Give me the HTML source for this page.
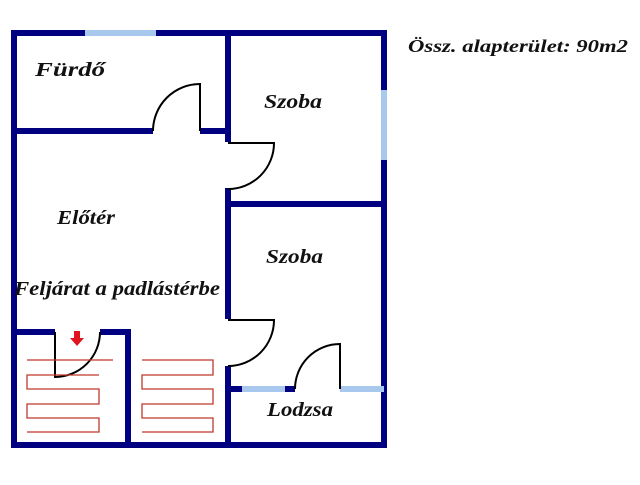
<!DOCTYPE html>
<html><head><style>
body{margin:0;background:#fff;width:640px;height:480px;overflow:hidden}
text{font-family:"Liberation Serif",serif;font-weight:bold;font-style:italic;fill:#111}
</style></head><body>
<svg width="640" height="480" viewBox="0 0 640 480">
<g fill="#000080">
<rect x="11" y="30" width="376" height="6"/>
<rect x="11" y="30" width="6" height="418"/>
<rect x="381" y="30" width="6" height="418"/>
<rect x="11" y="442" width="376" height="6"/>
<rect x="225" y="30" width="6" height="112"/>
<rect x="225" y="188" width="6" height="131"/>
<rect x="225" y="366" width="6" height="82"/>
<rect x="11" y="128" width="142" height="6"/>
<rect x="200" y="128" width="28" height="6"/>
<rect x="228" y="201" width="156" height="6"/>
<rect x="11" y="329" width="44" height="6"/>
<rect x="100" y="329" width="31" height="6"/>
<rect x="125" y="329" width="6" height="118"/>
<rect x="228" y="386" width="14" height="6"/>
<rect x="285" y="386" width="10" height="6"/>
</g>
<g fill="#a9c8ee">
<rect x="85" y="30" width="71" height="6"/>
<rect x="381" y="90" width="6" height="70"/>
<rect x="242" y="386" width="43" height="6"/>
<rect x="340" y="386" width="44" height="6"/>
</g>
<g fill="none" stroke="#000" stroke-width="2">
<path d="M153 131 A47 47 0 0 1 200 84 V131"/>
<path d="M228 143 H274 A46 46 0 0 1 228 189"/>
<path d="M228 320 H274 A46 46 0 0 1 228 366"/>
<path d="M295 389 A45 45 0 0 1 340 344 V389"/>
<path d="M55 332 V377 A45 45 0 0 0 100 332"/>
</g>
<g fill="none" stroke="#c0392b" stroke-width="1.3">
<path d="M27 360 H113"/>
<path d="M99 375 H27 V389 H99 V404 H27 V418 H99 V432 H27"/>
<path d="M142 360 H213 V375 H142 V389 H213 V404 H142 V418 H213 V432 H142"/>
</g>
<path d="M74 331 H80 V338 H84 L77 346 L70 338 H74 Z" fill="#e0141e"/>
<g font-size="20">
<text x="35" y="76" textLength="70" lengthAdjust="spacingAndGlyphs">Fürdő</text>
<text x="264" y="108" textLength="58" lengthAdjust="spacingAndGlyphs">Szoba</text>
<text x="57" y="224" textLength="58" lengthAdjust="spacingAndGlyphs">Előtér</text>
<text x="266" y="263" textLength="57" lengthAdjust="spacingAndGlyphs">Szoba</text>
<text x="14" y="295" textLength="206" lengthAdjust="spacingAndGlyphs">Feljárat a padlástérbe</text>
<text x="267" y="416" textLength="66" lengthAdjust="spacingAndGlyphs">Lodzsa</text>
</g>
<text x="408" y="52" font-size="18" textLength="220" lengthAdjust="spacingAndGlyphs">Össz. alapterület: 90m2</text>
</svg>
</body></html>
